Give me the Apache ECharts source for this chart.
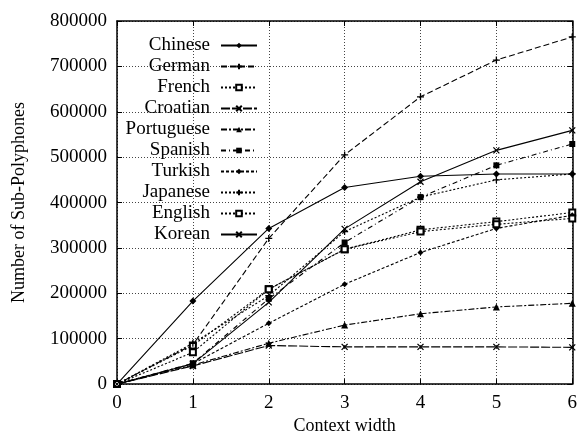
<!DOCTYPE html>
<html>
<head>
<meta charset="utf-8">
<script src="https://cdn.jsdelivr.net/npm/echarts@6/dist/echarts.min.js"></script>
<style>
html,body{margin:0;padding:0;background:#fff;}
#chart{width:580px;height:440px;}
</style>
</head>
<body>
<div id="chart"></div>
<script>
const contextWidths = [0, 1, 2, 3, 4, 5, 6];
const chinese    = [0, 183000, 343000, 433000, 458000, 463000, 463000];
const german     = [0,  87000, 321000, 505000, 633000, 714000, 765000];
const french     = [0,  85000, 209000, 297000, 340000, 358000, 378000];
const croatian   = [0,  40000,  85000,  82000,  82000,  82000,  81000];
const portuguese = [0,  42000,  90000, 130000, 155000, 170000, 178000];
const spanish    = [0,  46000, 188000, 312000, 412000, 482000, 529000];
const turkish    = [0,  45000, 134000, 220000, 290000, 343000, 372000];
const japanese   = [0,  90000, 195000, 336000, 412000, 450000, 463000];
const english    = [0,  70000, 209000, 297000, 336000, 352000, 365000];
const korean     = [0,  45000, 180000, 342000, 446000, 515000, 559000];
const yTicks = [0, 100000, 200000, 300000, 400000, 500000, 600000, 700000, 800000];

const FONT = '"Liberation Serif", "DejaVu Serif", serif';
const PLUS = 'path://M0,5L10,5M5,0L5,10';
const CROSS = 'path://M0,0L10,10M10,0L0,10';

const seriesDefs = [
  {name:'Chinese', data:chinese, symbol:'diamond', size:7, line:'solid'},
  {name:'German', data:german, symbol:PLUS, size:7, line:[6,3], stroke:true},
  {name:'French', data:french, symbol:'emptyRect', size:6, line:[2,2]},
  {name:'Croatian', data:croatian, symbol:CROSS, size:6, line:[9,2], stroke:true},
  {name:'Portuguese', data:portuguese, symbol:'triangle', size:7, line:[6,2,2,2]},
  {name:'Spanish', data:spanish, symbol:'rect', size:6, line:[5,3,1,3]},
  {name:'Turkish', data:turkish, symbol:'diamond', size:6, line:[3,2]},
  {name:'Japanese', data:japanese, symbol:PLUS, size:7, line:[2,2], stroke:true},
  {name:'English', data:english, symbol:'emptyRect', size:6, line:[2,2]},
  {name:'Korean', data:korean, symbol:CROSS, size:6, line:'solid', stroke:true}
];

const series = seriesDefs.map(d => ({
  name: d.name,
  type: 'line',
  data: contextWidths.map((x, i) => [x, d.data[i]]),
  symbol: d.symbol,
  symbolSize: d.size,
  showSymbol: true,
  lineStyle: {color:'#000', width: 1.1, type: d.line},
  itemStyle: {color: '#000', borderColor:'#000', borderWidth: d.stroke ? 1.3 : (d.symbol === 'emptyRect' ? 1.2 : 0)},
  emphasis: {disabled: true},
  animation: false,
  z: 3
}));

const legends = seriesDefs.map((d, i) => ({
  data: [d.name],
  orient: 'vertical',
  align: 'right',
  right: 322,
  top: 36 + i * 21,
  padding: 0,
  itemWidth: 36,
  itemHeight: 7,
  selectedMode: false,
  textStyle: {fontFamily: FONT, fontSize: 19, color: '#000', padding: [0, 6, 0, 0]}
}));

const gridLine = {show: true, lineStyle: {color: '#444', type: [1, 2], width: 1}};

const option = {
  backgroundColor: '#fff',
  animation: false,
  grid: {left: 117, right: 5, top: 21, bottom: 48},
  legend: legends,
  xAxis: [{
    type: 'value', min: 0, max: 6, interval: 1,
    name: 'Context width', nameLocation: 'middle', nameGap: 26,
    nameTextStyle: {fontFamily: FONT, fontSize: 18, color: '#000'},
    axisLine: {show: true, lineStyle: {color: '#000', width: 1.5}},
    axisTick: {show: true, inside: true, length: 5, lineStyle: {color: '#000'}},
    axisLabel: {fontFamily: FONT, fontSize: 19, color: '#000', margin: 9},
    splitLine: gridLine
  }, {
    type: 'value', min: 0, max: 6, interval: 1, position: 'top',
    axisLine: {show: true, onZero: false, lineStyle: {color: '#000', width: 1.5}},
    axisTick: {show: true, inside: true, length: 5, lineStyle: {color: '#000'}},
    axisLabel: {show: false}, splitLine: {show: false}
  }],
  yAxis: [{
    type: 'value', min: 0, max: 800000, interval: 100000,
    name: 'Number of Sub-Polyphones', nameLocation: 'middle', nameGap: 89,
    nameTextStyle: {fontFamily: FONT, fontSize: 18, color: '#000'},
    axisLine: {show: true, lineStyle: {color: '#000', width: 1.5}},
    axisTick: {show: true, inside: true, length: 5, lineStyle: {color: '#000'}},
    axisLabel: {fontFamily: FONT, fontSize: 19, color: '#000', margin: 10,
      formatter: v => (yTicks.indexOf(v) >= 0 ? String(v) : '')},
    splitLine: gridLine
  }, {
    type: 'value', min: 0, max: 800000, interval: 100000, position: 'right',
    axisLine: {show: true, onZero: false, lineStyle: {color: '#000', width: 1.5}},
    axisTick: {show: true, inside: true, length: 5, lineStyle: {color: '#000'}},
    axisLabel: {show: false}, splitLine: {show: false}
  }],
  series: series
};

const chart = echarts.init(document.getElementById('chart'), null, {renderer: 'canvas'});
chart.setOption(option);
</script>
</body>
</html>
